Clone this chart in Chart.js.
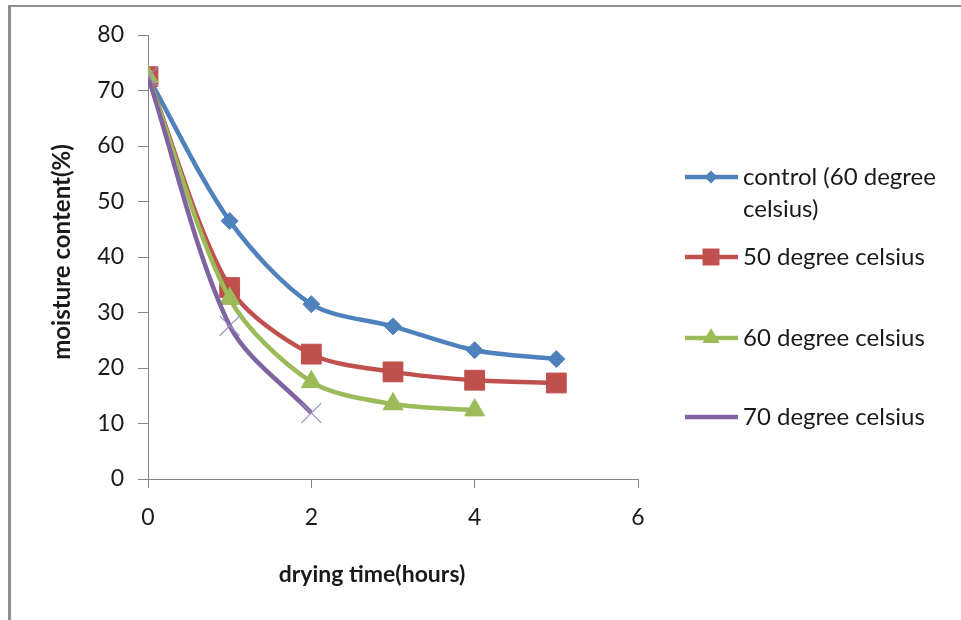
<!DOCTYPE html>
<html>
<head>
<meta charset="utf-8">
<script src="https://cdn.jsdelivr.net/npm/chart.js@4/dist/chart.umd.min.js"></script>
<style>
    body { margin: 0; background: #fff; }
    #wrap { position: relative; width: 961px; height: 620px; }
    #frame { position: absolute; left: 8px; top: 5px; right: 0; bottom: 0; border-left: 3px solid #8e8e8e; border-top: 2px solid #8e8e8e; pointer-events: none; }
</style>
</head>
<body>
<div id="wrap">
    <canvas id="moistureChart" width="961" height="620"></canvas>
    <div id="frame"></div>
</div>
<script>
const hours = [0, 1, 2, 3, 4, 5];
const controlValues = [72.5, 46.5, 31.5, 27.5, 23.2, 21.6];
const deg50Values = [72.5, 34.5, 22.5, 19.3, 17.8, 17.3];
const deg60Values = [72.5, 32.5, 17.5, 13.5, 12.4];
const deg70Values = [72.5, 27.6, 11.9];
const seriesNames = ['control (60 degree celsius)', '50 degree celsius', '60 degree celsius', '70 degree celsius'];
const xTicks = [0, 2, 4, 6];
const yTicks = [0, 10, 20, 30, 40, 50, 60, 70, 80];

const FONT = 'Lato, "Open Sans", sans-serif';
const AXIS = '#868686';

function toPoints(values) {
    return values.map((v, i) => ({ x: hours[i], y: v }));
}

const styles = [
    { color: '#4F81BD', point: 'rectRot', r: 8.5, legendR: 6.5, order: 4 },
    { color: '#C0504D', point: 'rect', r: 14, legendR: 12, order: 3 },
    { color: '#9BBB59', point: 'triangle', r: 11.5, legendR: 10, order: 2 },
    { color: '#8064A2', point: 'crossRot', r: 14, legendR: 12, order: 1 }
];
const allValues = [controlValues, deg50Values, deg60Values, deg70Values];

const datasets = allValues.map((vals, i) => ({
    label: seriesNames[i],
    data: toPoints(vals),
    borderColor: styles[i].color,
    backgroundColor: styles[i].color,
    borderWidth: 4.5,
    tension: 0.3,
    pointStyle: styles[i].point,
    pointRadius: styles[i].r,
    pointBorderWidth: styles[i].point === 'crossRot' ? 1.2 : 1,
    pointBorderColor: styles[i].point === 'crossRot' ? '#9f8cc0' : styles[i].color,
    pointBackgroundColor: styles[i].color,
    order: styles[i].order
}));

// legend + axis titles drawn by hand to match the original placement
const decorations = {
    id: 'decorations',
    afterDraw(chart) {
        const ctx = chart.ctx;
        ctx.save();
        ctx.fillStyle = '#1a1a1a';
        ctx.textAlign = 'center';
        ctx.textBaseline = 'middle';
        ctx.font = 'bold 23px ' + FONT;
        ctx.fillText('drying time(hours)', 372, 575);
        ctx.save();
        ctx.translate(62, 252);
        ctx.rotate(-Math.PI / 2);
        ctx.font = 'bold 24px ' + FONT;
        ctx.fillText('moisture content(%)', 0, 0);
        ctx.restore();

        const rows = [177, 257, 338, 417];
        const lines = [['control (60 degree', 'celsius)'], [seriesNames[1]], [seriesNames[2]], [seriesNames[3]]];
        rows.forEach((y, i) => {
            const st = styles[i];
            ctx.strokeStyle = st.color;
            ctx.lineWidth = 4.5;
            ctx.beginPath();
            ctx.moveTo(685, y);
            ctx.lineTo(738, y);
            ctx.stroke();
            ctx.fillStyle = st.color;
            ctx.strokeStyle = st.point === 'crossRot' ? '#9f8cc0' : st.color;
            ctx.lineWidth = st.point === 'crossRot' ? 1.2 : 1;
            Chart.helpers.drawPoint(ctx, { pointStyle: st.point, radius: st.legendR, rotation: 0 }, 711, y);
            ctx.fillStyle = '#1a1a1a';
            ctx.font = '24px ' + FONT;
            ctx.textAlign = 'left';
            ctx.textBaseline = 'middle';
            lines[i].forEach((t, k) => ctx.fillText(t, 743, y + k * 32));
        });
        ctx.restore();
    }
};

new Chart(document.getElementById('moistureChart').getContext('2d'), {
    type: 'line',
    data: { datasets: datasets },
    plugins: [decorations],
    options: {
        responsive: false,
        animation: false,
        layout: { padding: { left: 0, right: 323, top: 35, bottom: 0 } },
        plugins: { legend: { display: false }, tooltip: { enabled: false } },
        scales: {
            x: {
                type: 'linear',
                min: 0, max: 6,
                afterBuildTicks: s => { s.ticks = xTicks.map(v => ({ value: v })); },
                afterFit: s => { s.height = 141; },
                border: { color: AXIS, width: 1 },
                grid: { drawOnChartArea: false, tickLength: 9, color: AXIS },
                ticks: { padding: 16, color: '#1a1a1a', font: { family: FONT, size: 23 } }
            },
            y: {
                min: 0, max: 80,
                afterBuildTicks: s => { s.ticks = yTicks.map(v => ({ value: v })); },
                afterFit: s => { s.width = 148; },
                border: { color: AXIS, width: 1 },
                grid: { drawOnChartArea: false, tickLength: 10, color: AXIS },
                ticks: { padding: 14, color: '#1a1a1a', font: { family: FONT, size: 23 } }
            }
        }
    }
});
</script>
</body>
</html>
